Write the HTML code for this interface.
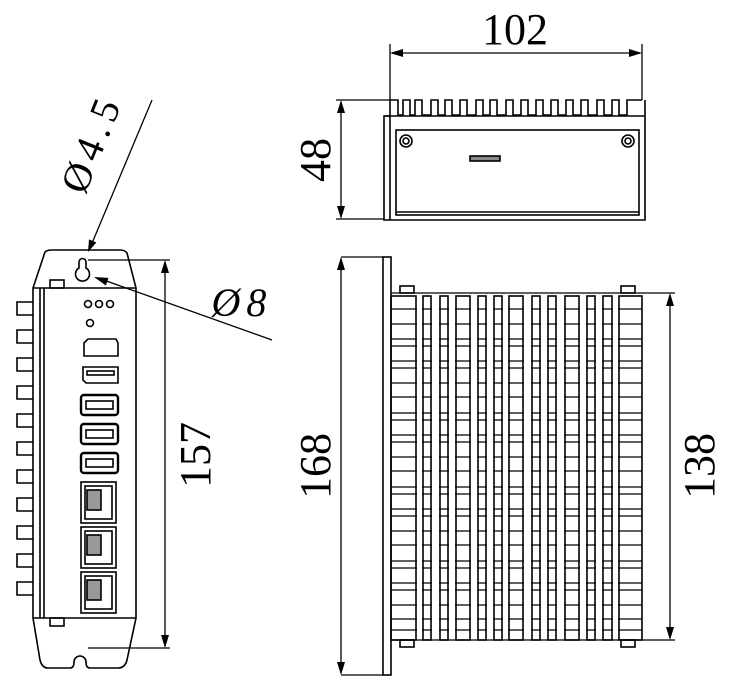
<!DOCTYPE html>
<html><head><style>
html,body{margin:0;padding:0;background:#fff;}
svg{display:block;}
text{font-family:"Liberation Serif",serif;fill:#000;}
</style></head><body>
<svg width="743" height="689" viewBox="0 0 743 689" xmlns="http://www.w3.org/2000/svg">
<g fill="none" stroke="#000" stroke-width="1.6">
<!-- ===== Left device ===== -->
<path d="M33,288 L45,252 Q47,250 52,250 L120,250 Q125,250 127,253 L136,288 L136,618 L127,660 Q125,668 118,668 L90,668 Q86,668 86,662 A6,6 0 0 0 74,662 Q74,668 70,668 L48,668 Q42,668 40,660 L33,618 Z"/>
<line x1="33" y1="288" x2="136" y2="288"/>
<line x1="33" y1="618" x2="136" y2="618"/>
<line x1="40" y1="288" x2="40" y2="618"/>
<line x1="44" y1="288" x2="44" y2="618"/>
<rect x="50" y="280" width="14" height="8"/>
<rect x="50" y="618" width="14" height="8"/>
<path d="M79,262 A3.5,3.5 0 0 1 86,262 L86,268 A7,7 0 1 1 79,268 Z"/>
<path d="M33,302 H17 V315 H33 M33,330 H17 V343 H33 M33,358 H17 V371 H33 M33,386 H17 V399 H33 M33,414 H17 V427 H33 M33,442 H17 V455 H33 M33,470 H17 V483 H33 M33,498 H17 V511 H33 M33,526 H17 V539 H33 M33,554 H17 V567 H33 M33,582 H17 V595 H33"/>
<circle cx="88" cy="304" r="3.5"/><circle cx="99" cy="304" r="3.5"/><circle cx="110" cy="304" r="3.5"/>
<circle cx="90" cy="323" r="3.5"/>
<path d="M84,343 L88,339 L116,339 L118,343 L118,356 L84,356 Z"/>
<path d="M83,367 H118 V383 H86 L83,380 Z"/><rect x="87" y="371" width="27" height="4"/>
<rect x="81" y="395" width="37" height="20" rx="3" stroke-width="2.4"/><rect x="86" y="401" width="27" height="8"/>
<rect x="81" y="424" width="37" height="20" rx="3" stroke-width="2.4"/><rect x="86" y="430" width="27" height="8"/>
<rect x="81" y="453" width="37" height="20" rx="3" stroke-width="2.4"/><rect x="86" y="459" width="27" height="8"/>
<rect x="81" y="482" width="35" height="41"/><rect x="85" y="486" width="27" height="33"/><rect x="87" y="490" width="14" height="20" fill="#999"/>
<rect x="81" y="527" width="35" height="41"/><rect x="85" y="531" width="27" height="33"/><rect x="87" y="535" width="14" height="20" fill="#999"/>
<rect x="81" y="572" width="35" height="41"/><rect x="85" y="576" width="27" height="33"/><rect x="87" y="580" width="14" height="20" fill="#999"/>
<line x1="88" y1="260" x2="170" y2="260" stroke-width="1.3"/>
<line x1="88" y1="648" x2="170" y2="648" stroke-width="1.3"/>
<line x1="165" y1="262" x2="165" y2="646" stroke-width="1.3"/>
<line x1="152" y1="100" x2="90" y2="248" stroke-width="1.3"/>
<line x1="272" y1="340" x2="98" y2="278" stroke-width="1.3"/>

<!-- ===== Top view ===== -->
<path d="M390,100 H398 V115 H403 V100 H410 V115 H415 V100 H422 V115 H431 V100 H438 V115 H445 V100 H452 V115 H460 V100 H467 V115 H476 V100 H483 V115 H490 V100 H497 V115 H506 V100 H513 V115 H521 V100 H528 V115 H536 V100 H543 V115 H551 V100 H558 V115 H566 V100 H573 V115 H581 V100 H588 V115 H597 V100 H604 V115 H612 V100 H619 V115 H627 V100 H642"/>
<path d="M390,100 V116 H384 V220 H645 V100"/>
<line x1="384" y1="116" x2="645" y2="116"/>
<line x1="390" y1="116" x2="390" y2="220"/>
<rect x="396" y="130" width="243" height="85"/>
<line x1="396" y1="212" x2="639" y2="212"/>
<circle cx="406" cy="141" r="6"/><circle cx="406" cy="141" r="3"/>
<circle cx="628" cy="141" r="6"/><circle cx="628" cy="141" r="3"/>
<rect x="470" y="156" width="30" height="5" fill="#888"/>
<line x1="390" y1="44" x2="390" y2="100" stroke-width="1.3"/>
<line x1="642" y1="44" x2="642" y2="100" stroke-width="1.3"/>
<line x1="392" y1="53" x2="640" y2="53" stroke-width="1.3"/>
<line x1="336" y1="100" x2="390" y2="100" stroke-width="1.3"/>
<line x1="336" y1="219" x2="384" y2="219" stroke-width="1.3"/>
<line x1="341" y1="102" x2="341" y2="217" stroke-width="1.3"/>

<!-- ===== Bottom view ===== -->
<rect x="383" y="257" width="8" height="418"/>
<line x1="341" y1="257" x2="383" y2="257" stroke-width="1.3"/>
<line x1="341" y1="675" x2="383" y2="675" stroke-width="1.3"/>
<line x1="341" y1="259" x2="341" y2="673" stroke-width="1.3"/>
<line x1="391" y1="293" x2="675" y2="293" stroke-width="1.3"/>
<line x1="391" y1="640" x2="675" y2="640" stroke-width="1.3"/>
<line x1="670" y1="295" x2="670" y2="638" stroke-width="1.3"/>
<rect x="400" y="286" width="14" height="7"/><rect x="621" y="286" width="14" height="7"/>
<rect x="400" y="640" width="14" height="7"/><rect x="621" y="640" width="14" height="7"/>
</g>
<g stroke="#000" stroke-width="1.3">
<path d="M391,309 H642 M391,324 H642 M391,339 H642 M391,346 H642 M391,361 H642 M391,368 H642 M391,383 H642 M391,397 H642 M391,413 H642 M391,420 H642 M391,435 H642 M391,442 H642 M391,457 H642 M391,471 H642 M391,487 H642 M391,494 H642 M391,509 H642 M391,516 H642 M391,531 H642 M391,545 H642 M391,561 H642 M391,568 H642 M391,583 H642 M391,590 H642 M391,605 H642 M391,619 H642 M391,630 H642"/>
</g>
<g fill="#fff" stroke="none">
<rect x="417" y="294" width="5" height="345"/><rect x="432" y="294" width="7" height="345"/><rect x="449" y="294" width="6" height="345"/>
<rect x="471" y="294" width="6" height="345"/><rect x="487" y="294" width="6" height="345"/><rect x="503" y="294" width="5" height="345"/>
<rect x="524" y="294" width="7" height="345"/><rect x="541" y="294" width="6" height="345"/><rect x="557" y="294" width="7" height="345"/>
<rect x="580" y="294" width="6" height="345"/><rect x="596" y="294" width="6" height="345"/><rect x="613" y="294" width="5" height="345"/>
</g>
<g fill="none" stroke="#000" stroke-width="1.6">
<rect x="391" y="296" width="25" height="344"/>
<rect x="423" y="296" width="8" height="344"/>
<rect x="440" y="296" width="8" height="344"/>
<rect x="456" y="296" width="14" height="344"/>
<rect x="478" y="296" width="8" height="344"/>
<rect x="494" y="296" width="8" height="344"/>
<rect x="509" y="296" width="14" height="344"/>
<rect x="532" y="296" width="8" height="344"/>
<rect x="548" y="296" width="8" height="344"/>
<rect x="565" y="296" width="14" height="344"/>
<rect x="587" y="296" width="8" height="344"/>
<rect x="603" y="296" width="9" height="344"/>
<rect x="619" y="296" width="23" height="344"/>
</g>
<!-- arrowheads -->
<g fill="#000" stroke="none">
<polygon points="165,260 161,273 169,273"/><polygon points="165,648 161,635 169,635"/>
<polygon points="390,53 403,49 403,57"/><polygon points="642,53 629,49 629,57"/>
<polygon points="341,100 337,113 345,113"/><polygon points="341,219 337,206 345,206"/>
<polygon points="341,257 337,270 345,270"/><polygon points="341,675 337,662 345,662"/>
<polygon points="670,293 666,306 674,306"/><polygon points="670,640 666,627 674,627"/>
<polygon points="88,252 96.4,242.5 89,239.4"/>
<polygon points="94,277 108.5,277.9 105.9,285.5"/>
</g>
<text x="515" y="44" font-size="44" text-anchor="middle">102</text>
<text transform="translate(330,160) rotate(-90)" font-size="44" text-anchor="middle">48</text>
<text transform="translate(330,466) rotate(-90)" font-size="44" text-anchor="middle">168</text>
<text transform="translate(714,466) rotate(-90)" font-size="44" text-anchor="middle">138</text>
<text transform="translate(210,455) rotate(-90)" font-size="44" text-anchor="middle">157</text>
<text transform="translate(104,148) rotate(-68)" font-size="40" text-anchor="middle" letter-spacing="6">Ø4.5</text>
<text x="242" y="316" font-size="40" text-anchor="middle" font-style="italic" letter-spacing="6">Ø8</text>
</svg>
</body></html>
